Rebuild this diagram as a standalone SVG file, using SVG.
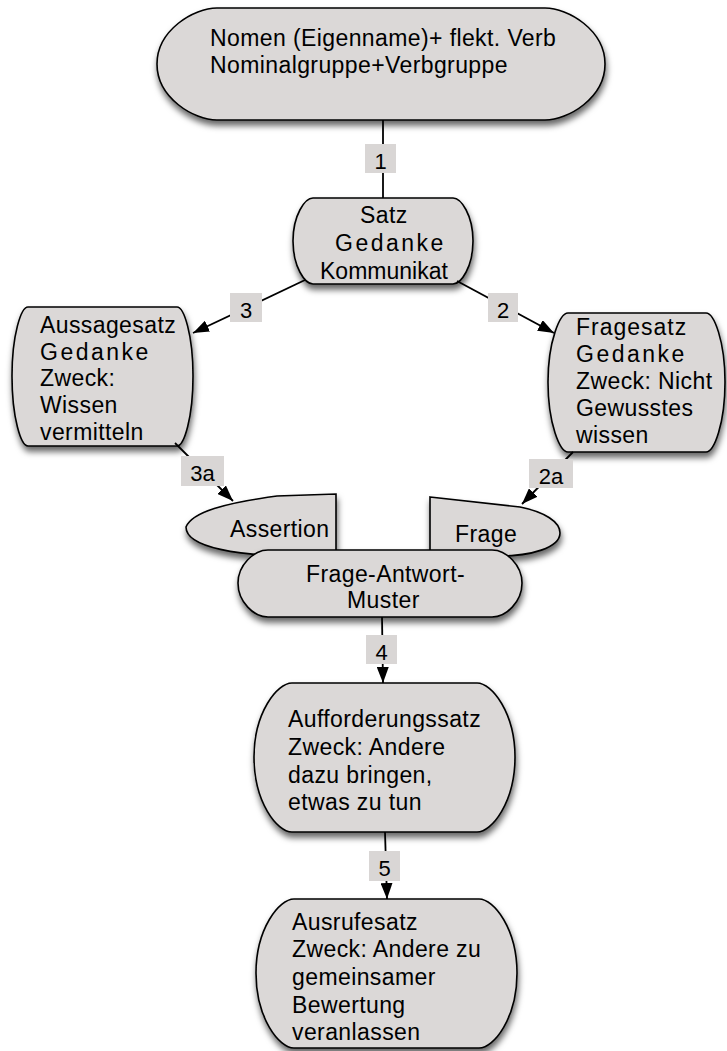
<svg xmlns="http://www.w3.org/2000/svg" width="727" height="1051" viewBox="0 0 727 1051">
<defs>
<filter id="sh" x="-10%" y="-10%" width="125%" height="135%">
<feDropShadow dx="1" dy="5" stdDeviation="3" flood-color="#000" flood-opacity="0.6"/>
</filter>
<marker id="ah" markerUnits="userSpaceOnUse" markerWidth="16" markerHeight="12" refX="16" refY="6" orient="auto">
<path d="M0,0 L16,6 L0,12 Z" fill="#000"/>
</marker>
</defs>
<style>
.n{fill:#dbd8d7;stroke:#000;stroke-width:1.6;filter:url(#sh)}
.t{font-family:"Liberation Sans",Arial,sans-serif;font-size:23px;fill:#000;letter-spacing:0.4px}
.g{letter-spacing:2.5px}
.c{stroke:#000;stroke-width:1.8;fill:none}
.a{marker-end:url(#ah)}
.lb{fill:#d9d6d5}
.lt{font-family:"Liberation Sans",Arial,sans-serif;font-size:22px;fill:#000;text-anchor:middle}
</style>
<rect width="727" height="1051" fill="#fff"/>
<g id="top">
<path class="n" d="M217,8 H545 C568,8 605,30 605,64 C605,98 568,120 545,120 H217 C194,120 157,98 157,64 C157,30 194,8 217,8 Z"/>
<text class="t" x="210" y="46">Nomen (Eigenname)+ flekt. Verb</text>
<text class="t" x="210" y="73">Nominalgruppe+Verbgruppe</text>
</g>
<g id="satz">
<path class="n" d="M313,198 H453 C461,198 473,215 473,241 C473,267 461,284 453,284 H313 C305,284 293,267 293,241 C293,215 305,198 313,198 Z"/>
<text class="t" x="360" y="223">Satz</text>
<text class="t g" x="335" y="251">Gedanke</text>
<text class="t" x="320" y="279" style="letter-spacing:0">Kommunikat</text>
</g>
<g id="aussagesatz">
<path class="n" d="M28,307 H177 C184,307 193,335 193,376 C193,418 184,446 177,446 H28 C21,446 12,418 12,376 C12,335 21,307 28,307 Z"/>
<text class="t" x="40" y="333">Aussagesatz</text>
<text class="t g" x="40" y="360">Gedanke</text>
<text class="t" x="40" y="386">Zweck:</text>
<text class="t" x="40" y="413">Wissen</text>
<text class="t" x="40" y="440">vermitteln</text>
</g>
<g id="fragesatz">
<path class="n" d="M568,313 H706 C714,313 725,341 725,382 C725,424 714,452 706,452 H568 C560,452 548,424 548,382 C548,341 560,313 568,313 Z"/>
<text class="t" x="576" y="335" style="letter-spacing:1px">Fragesatz</text>
<text class="t g" x="576" y="362">Gedanke</text>
<text class="t" x="576" y="389">Zweck: Nicht</text>
<text class="t" x="576" y="416">Gewusstes</text>
<text class="t" x="576" y="443">wissen</text>
</g>
<g id="assertion">
<path class="n" d="M186,527 C192,512 225,503 277,496 L336,494 V556 L300,556 C240,556 186,548 186,527 Z"/>
<text class="t" x="230" y="537">Assertion</text>
</g>
<g id="frage">
<path class="n" d="M430,497 L520,507 C545,512 560,522 560,533 C560,548 530,556 500,556 L430,556 Z"/>
<text class="t" x="455" y="542">Frage</text>
</g>
<g id="frage-antwort-muster">
<path class="n" d="M268,550 H492 C506,550 522,565 522,583 C522,602 506,617 492,617 H268 C254,617 238,602 238,583 C238,565 254,550 268,550 Z"/>
<text class="t" x="306" y="582">Frage-Antwort-</text>
<text class="t" x="347" y="608">Muster</text>
</g>
<g id="aufforderungssatz">
<path class="n" d="M292,683 H477 C492,683 515,713 515,757 C515,802 492,832 477,832 H292 C277,832 254,802 254,757 C254,713 277,683 292,683 Z"/>
<text class="t" x="288" y="727">Aufforderungssatz</text>
<text class="t" x="288" y="755">Zweck: Andere</text>
<text class="t" x="288" y="783">dazu bringen,</text>
<text class="t" x="288" y="810">etwas zu tun</text>
</g>
<g id="ausrufesatz">
<path class="n" d="M294,899 H479 C494,899 517,929 517,973 C517,1018 494,1048 479,1048 H294 C279,1048 256,1018 256,973 C256,929 279,899 294,899 Z"/>
<text class="t" x="292" y="930">Ausrufesatz</text>
<text class="t" x="292" y="957">Zweck: Andere zu</text>
<text class="t" x="292" y="985">gemeinsamer</text>
<text class="t" x="292" y="1013">Bewertung</text>
<text class="t" x="292" y="1040">veranlassen</text>
</g>
<g id="connectors">
<path class="c" d="M383,120 V198"/>
<rect class="lb" x="365" y="144" width="31" height="29"/>
<text class="lt" x="380.5" y="169">1</text>
<path class="c a" d="M305,280 L193,333"/>
<rect class="lb" x="230" y="293" width="32" height="29"/>
<text class="lt" x="246" y="318">3</text>
<path class="c a" d="M457,281 L554,333"/>
<rect class="lb" x="488" y="293" width="30" height="29"/>
<text class="lt" x="503" y="318">2</text>
<path class="c a" d="M175,443 L233,501"/>
<rect class="lb" x="181" y="456" width="43" height="30"/>
<text class="lt" x="202.5" y="481">3a</text>
<path class="c a" d="M573,452 L522,504"/>
<rect class="lb" x="529" y="459" width="44" height="29"/>
<text class="lt" x="551" y="484">2a</text>
<path class="c a" d="M382,617 L383,683"/>
<rect class="lb" x="366" y="635" width="31" height="29"/>
<text class="lt" x="381.5" y="660">4</text>
<path class="c a" d="M385,832 L387,899"/>
<rect class="lb" x="369" y="851" width="31" height="30"/>
<text class="lt" x="384.5" y="876">5</text>
</g>
</svg>
